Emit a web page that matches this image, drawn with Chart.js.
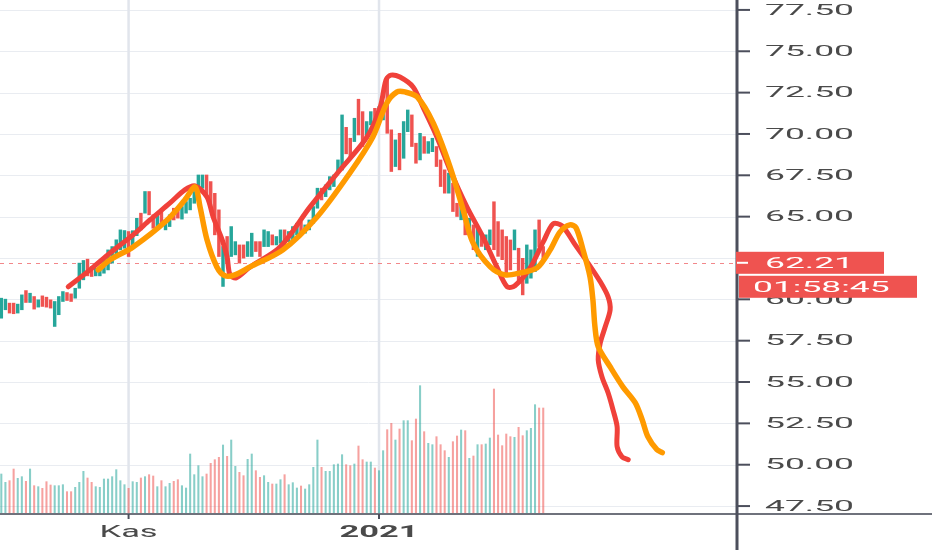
<!DOCTYPE html>
<html>
<head>
<meta charset="utf-8">
<script src="https://cdn.jsdelivr.net/npm/chart.js@4.4.0/dist/chart.umd.min.js"></script>
<style>
  html, body { margin: 0; padding: 0; background: #fff; }
  canvas { display: block; }
</style>
</head>
<body>
<canvas id="chart" width="932" height="550"></canvas>
<script>
// daily bars, index 0 = 1 Oct
const opens = [58.86,59.37,59.77,59.77,59.17,59.37,60.53,59.81,60.17,59.53,
  60.21,60.13,59.97,58.36,59.07,59.87,60.41,60.33,60.07,60.67,
  61.18,62.43,61.98,61.42,61.42,61.58,61.78,62.19,62.69,62.99,
  63.09,64.10,63.30,63.85,65.21,65.21,66.52,65.11,64.40,65.31,
  64.20,64.40,65.51,65.41,64.85,65.21,65.41,65.81,66.42,66.72,
  67.52,67.12,66.41,65.41,60.78,63.80,62.59,62.69,63.29,63.29,
  62.59,62.59,63.49,63.49,63.19,63.19,63.90,63.29,63.39,64.20,
  63.49,63.59,63.90,64.70,64.00,64.20,64.60,65.51,66.72,66.21,
  66.62,66.82,67.62,67.82,70.40,69.74,69.54,72.10,71.35,69.84,
  70.55,71.55,70.85,70.85,73.47,70.25,68.03,70.04,68.53,70.14,
  71.15,69.44,68.43,69.84,68.83,68.93,69.24,68.43,67.83,66.42,
  67.02,65.81,64.81,65.41,63.90,64.50,62.60,64.00,63.00,63.30,
  65.90,64.70,64.20,63.80,63.59,62.99,63.09,62.48,60.97,61.28,
  61.68,64.80,63.19];
const closes = [60.07,60.01,59.17,59.13,59.71,60.27,59.81,60.37,59.41,59.97,
  59.57,59.53,59.47,59.87,60.17,60.47,59.93,59.87,60.67,62.19,
  62.35,61.42,61.38,61.88,61.88,62.49,62.99,63.19,63.60,64.20,
  64.16,62.59,64.15,64.90,64.20,66.52,65.11,64.30,65.11,64.50,
  64.80,65.11,64.80,64.91,65.61,65.91,66.11,66.52,67.52,67.52,
  66.22,65.61,63.90,62.59,63.19,62.19,64.40,63.49,62.19,62.49,
  63.49,64.00,62.89,62.59,64.20,64.10,63.29,63.80,64.20,63.09,
  64.10,64.40,64.60,64.00,64.50,64.80,65.61,66.72,66.01,66.92,
  67.42,67.52,68.43,71.15,68.80,68.53,70.95,69.94,69.24,70.75,
  71.35,70.75,71.65,71.86,70.04,67.73,69.64,67.83,70.75,71.45,
  69.24,68.23,70.04,68.83,69.54,69.74,68.03,66.82,66.42,67.63,
  65.31,65.01,65.61,63.90,64.90,63.00,64.40,63.20,63.90,64.20,
  63.00,62.60,62.40,61.60,61.78,64.20,60.97,60.27,63.29,62.99,
  64.20,63.19,62.21];
const volumes = [120,95,100,135,107,112,98,135,85,82,
  77,97,87,85,85,88,67,67,80,95,
  128,108,95,82,80,105,105,112,133,100,
  88,77,97,95,108,112,118,114,82,100,
  82,92,98,103,85,78,180,118,145,112,
  120,152,163,170,207,173,222,143,125,115,
  164,180,130,110,115,95,90,90,103,118,
  88,94,78,84,75,88,140,222,140,128,
  128,148,150,178,148,145,150,204,163,156,
  156,138,130,190,253,272,222,255,280,280,
  220,285,385,247,212,208,232,208,190,170,
  217,234,252,250,167,174,208,208,210,228,
  375,237,205,240,232,230,260,235,250,257,
  328,318,318];

// hand drawn projection lines (bar index, price)
const redX = [16.3,21.6,26.5,32.1,36.2,41.1,44.7,47.2,50.1,51.6,53.8,55.0,55.7,57.2,60.6,67.9,75.2,82.5,89.1,92.3,
  93.7,94.9,97.1,100.3,102.7,106.1,109.3,113.4,117.3,120.7,123.2,125.1,128.8,132.0,134.4,136.6,139.8,142.7,145.9,147.8,
  148.3,147.1,145.9,145.4,146.3,147.8,149.0,150.0,150.0,151.2,152.7];
const redY = [60.76,61.78,62.81,63.90,64.80,65.83,66.62,66.86,66.19,64.98,63.60,62.57,61.48,61.30,61.96,63.17,65.59,67.82,69.82,71.63,
  73.26,73.56,73.44,72.84,71.63,69.82,67.82,65.59,63.78,61.96,60.76,60.82,61.90,63.47,64.56,64.44,63.29,62.27,61.06,60.15,
  59.37,58.34,57.37,56.34,55.32,54.35,53.32,52.30,51.09,50.48,50.30];
const orangeX = [23.6,26.5,32.1,40.4,44.7,47.2,48.4,50.1,52.5,54.5,56.9,60.6,68.6,76.9,84.9,90.5,93.9,96.4,98.3,101.3,
  105.2,109.3,112.5,114.9,119.1,122.7,126.4,130.5,133.7,136.1,138.5,140.0,141.7,143.4,144.1,144.6,145.4,148.3,151.4,154.4,
  156.1,157.5,159.7,161.0];
const orangeY = [61.78,62.39,63.17,64.80,66.01,66.80,65.59,63.60,61.96,61.42,61.48,61.96,62.99,64.98,67.64,69.82,71.87,72.54,72.54,72.24,
  70.66,68.01,65.41,63.41,61.96,61.48,61.60,61.90,62.99,64.08,64.50,64.32,62.99,61.36,59.97,58.34,57.13,55.92,54.71,53.75,
  52.72,51.69,50.91,50.73];

const yTicks = [47.5,50,52.5,55,57.5,60,62.5,65,67.5,70,72.5,75,77.5];
const xTickIdx = [31, 92];
const xTickLabels = ['Kas', '2021'];
const lastPrice = 62.21;
const countdown = '01:58:45';

const UP = '#26a69a', DOWN = '#ef5350';
const candleColors = opens.map((o, i) => closes[i] >= o ? UP : DOWN);
const volColors = opens.map((o, i) => closes[i] >= o ? 'rgba(38,166,154,0.55)' : 'rgba(239,83,80,0.55)');

function stretched(ctx, text, x, y, sx, align) {
  const w = ctx.measureText(text).width * sx;
  const left = align === 'center' ? x - w / 2 : x;
  ctx.save();
  ctx.translate(left, y);
  ctx.scale(sx, 1);
  ctx.textAlign = 'left';
  ctx.textBaseline = 'middle';
  ctx.fillText(text, 0, 0);
  ctx.restore();
}

const overlay = {
  id: 'overlay',
  beforeDatasetsDraw(chart) {
    const {ctx, chartArea: a, scales: {x, y}} = chart;
    ctx.save();
    ctx.lineWidth = 1;
    ctx.strokeStyle = '#e9ecf1';
    yTicks.forEach(t => {
      const py = Math.round(y.getPixelForValue(t)) + 0.5;
      ctx.beginPath(); ctx.moveTo(a.left, py); ctx.lineTo(a.right, py); ctx.stroke();
    });
    ctx.lineWidth = 2.5;
    ctx.strokeStyle = '#e1e5ec';
    xTickIdx.forEach(t => {
      const px = x.getPixelForValue(t);
      ctx.beginPath(); ctx.moveTo(px, a.top); ctx.lineTo(px, a.bottom); ctx.stroke();
    });
    // last price line
    const lp = Math.round(y.getPixelForValue(lastPrice)) + 0.5;
    ctx.lineWidth = 1.2;
    ctx.strokeStyle = '#f2878a';
    ctx.setLineDash([4, 5]);
    ctx.beginPath(); ctx.moveTo(a.left, lp); ctx.lineTo(a.right, lp); ctx.stroke();
    ctx.restore();
  },
  afterDraw(chart) {
    const {ctx, chartArea: a, scales: {x, y}} = chart;
    ctx.save();
    // axes
    ctx.strokeStyle = '#6f727c';
    ctx.lineWidth = 2;
    ctx.beginPath(); ctx.moveTo(0, a.bottom); ctx.lineTo(chart.width, a.bottom); ctx.stroke();
    ctx.strokeStyle = '#4c4f5c';
    ctx.lineWidth = 3;
    ctx.beginPath(); ctx.moveTo(a.right, 0); ctx.lineTo(a.right, chart.height); ctx.stroke();

    // y ticks + labels
    ctx.font = '15px Roboto';
    const sx = 89 / ctx.measureText('77.50').width;
    ctx.fillStyle = '#4a4a4a';
    ctx.lineWidth = 2;
    yTicks.forEach(t => {
      const py = y.getPixelForValue(t);
      ctx.beginPath(); ctx.moveTo(a.right, py); ctx.lineTo(a.right + 13, py); ctx.stroke();
      stretched(ctx, t.toFixed(2), a.right + 28, py + 1, sx);
    });

    // x ticks + labels
    ctx.font = '16px Roboto';
    const sxX = 58 / ctx.measureText('Kas').width;
    xTickIdx.forEach((t, k) => {
      const px = x.getPixelForValue(t);
      ctx.beginPath(); ctx.moveTo(px, a.bottom); ctx.lineTo(px, a.bottom + 5); ctx.stroke();
      ctx.font = (k === 1 ? 'bold ' : '') + '16px Roboto';
      stretched(ctx, xTickLabels[k], px, 533, sxX, 'center');
    });

    // price label boxes
    const lp = y.getPixelForValue(lastPrice);
    ctx.font = '15px Roboto';
    ctx.fillStyle = '#ef5350';
    ctx.fillRect(a.right - 1, lp - 11, 148, 22);
    ctx.strokeStyle = '#ffffff';
    ctx.beginPath(); ctx.moveTo(a.right, lp); ctx.lineTo(a.right + 11, lp); ctx.stroke();
    ctx.fillStyle = '#ffffff';
    stretched(ctx, lastPrice.toFixed(2), a.right + 28, lp + 1, sx);
    ctx.fillStyle = '#ef5350';
    ctx.fillRect(a.right + 2, lp + 13, 178, 22);
    ctx.fillStyle = '#ffffff';
    stretched(ctx, countdown, a.right + 16, lp + 25, sx);
    ctx.restore();
  }
};

new Chart(document.getElementById('chart'), {
  type: 'bar',
  data: {
    datasets: [
      {
        label: 'Volume',
        data: volumes.map((v, i) => ({x: i, y: v})),
        backgroundColor: volColors,
        barThickness: 1.4,
        grouped: false,
        yAxisID: 'yv',
        order: 4
      },
      {
        label: 'Price',
        data: opens.map((o, i) => ({x: i, y: [o, closes[i]]})),
        backgroundColor: candleColors,
        barThickness: 2.8,
        grouped: false,
        yAxisID: 'y',
        order: 3
      },
      {
        type: 'line',
        label: 'Red',
        data: redX.map((v, k) => ({x: v, y: redY[k]})),
        borderColor: '#f0413a',
        borderWidth: 5,
        pointRadius: 0,
        tension: 0.3,
        borderCapStyle: 'round',
        borderJoinStyle: 'round',
        yAxisID: 'y',
        order: 2
      },
      {
        type: 'line',
        label: 'Orange',
        data: orangeX.map((v, k) => ({x: v, y: orangeY[k]})),
        borderColor: '#ff9a00',
        borderWidth: 5.5,
        pointRadius: 0,
        tension: 0.3,
        borderCapStyle: 'round',
        borderJoinStyle: 'round',
        yAxisID: 'y',
        order: 1
      }
    ]
  },
  plugins: [overlay],
  options: {
    responsive: false,
    animation: false,
    layout: {padding: {left: 0, top: 0, right: 195, bottom: 36}},
    scales: {
      x: {type: 'linear', min: -0.32, max: 179.2, display: false, offset: false},
      y: {min: 47.02, max: 78.1, display: false},
      yv: {min: 0, max: 1542, display: false}
    },
    plugins: {
      legend: {display: false},
      tooltip: {enabled: false}
    }
  }
});
</script>
</body>
</html>
